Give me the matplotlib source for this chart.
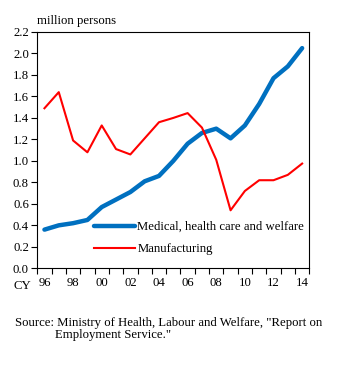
import matplotlib
matplotlib.use("Agg")
import matplotlib.pyplot as plt
import numpy as np

years = list(range(1996, 2015))
medical = [0.36, 0.40, 0.42, 0.45, 0.57, 0.64, 0.71, 0.81, 0.86, 1.00, 1.16, 1.26, 1.30, 1.21, 1.33, 1.53, 1.77, 1.88, 2.05]
manufacturing = [1.49, 1.64, 1.19, 1.08, 1.33, 1.11, 1.06, 1.21, 1.36, 1.40, 1.445, 1.31, 1.01, 0.54, 0.72, 0.82, 0.82, 0.87, 0.975]
year_labels = ["96", "98", "00", "02", "04", "06", "08", "10", "12", "14"]
y_ticks = [0.0, 0.2, 0.4, 0.6, 0.8, 1.0, 1.2, 1.4, 1.6, 1.8, 2.0, 2.2]

plt.rcParams['font.family'] = ['Liberation Serif', 'DejaVu Serif']
fs = 9.2

fig = plt.figure(figsize=(3.51, 3.66), dpi=100)
W, H = 351, 366
ax = fig.add_axes([37.3 / W, 1 - 268.3 / H, (309.3 - 37.3) / W, (268.3 - 32) / H])

x = np.arange(len(years))
ax.plot(x, medical, color='#0070C0', lw=3.2, solid_capstyle='round',
        label='Medical, health care and welfare')
ax.plot(x, manufacturing, color='#FF0000', lw=1.5, label='Manufacturing')

ax.set_xlim(-0.5, len(years) - 0.5)
ax.set_ylim(0, 2.2)
ax.set_yticks(y_ticks)
ax.set_yticklabels([f"{v:.1f}" for v in y_ticks], fontsize=fs)

ax.set_xticks(np.arange(-0.5, len(years), 1.0), minor=True)
ax.set_xticks(np.arange(0, len(years), 2))
ax.set_xticklabels(year_labels, fontsize=fs)
ax.tick_params(axis='x', which='major', length=0, pad=6)
ax.tick_params(axis='x', which='minor', length=4, direction='out', width=0.8)
ax.tick_params(axis='y', length=4, direction='out', width=0.8, pad=2)
for s in ax.spines.values():
    s.set_linewidth(0.8)

leg = ax.legend(loc='lower left', bbox_to_anchor=(54 / 272, 0.044), frameon=False,
                fontsize=fs, handlelength=3.2, labelspacing=0.8, handletextpad=0.2,
                borderaxespad=0.0, borderpad=0.2)

fig.text(37 / W, 1 - 24 / H, 'million persons', fontsize=fs, ha='left', va='baseline')
fig.text(14 / W, 1 - 289 / H, 'CY', fontsize=fs, ha='left', va='baseline')
fig.text(15 / W, 1 - 326 / H, 'Source: Ministry of Health, Labour and Welfare, "Report on',
         fontsize=fs, ha='left', va='baseline')
fig.text(55 / W, 1 - 338 / H, 'Employment Service."', fontsize=fs, ha='left', va='baseline')

fig.savefig('out.png', dpi=100)
